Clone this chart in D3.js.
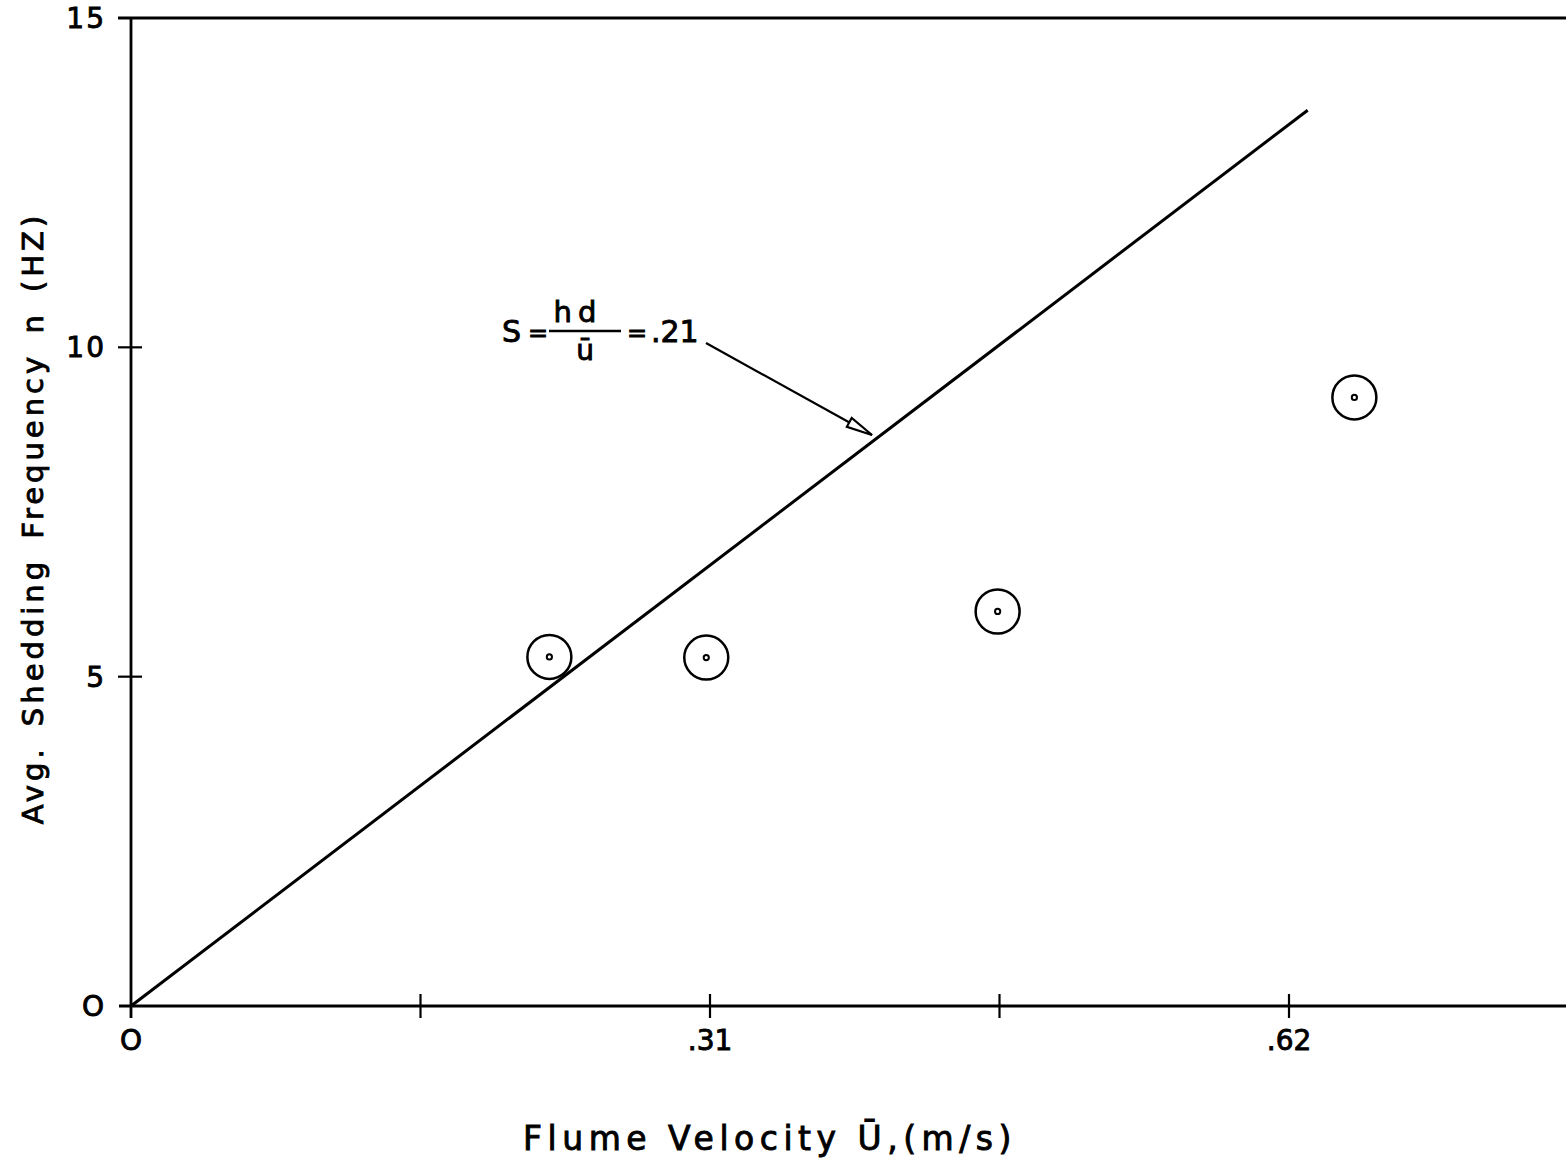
<!DOCTYPE html>
<html>
<head>
<meta charset="utf-8">
<script src="https://cdn.jsdelivr.net/npm/d3@7"></script>
<style>
  body { margin: 0; background: #fff; }
  text { font-family: "DejaVu Sans", sans-serif; fill: #000; stroke: #000; stroke-width: 0.9px; }
</style>
</head>
<body>
<div id="chart"></div>
<script>
// measured points (flume velocity m/s, shedding freq Hz)
const velocity = [0.224, 0.308, 0.464, 0.655]
const frequency = [5.30, 5.29, 5.99, 9.24]

// Strouhal line S = nd/U = .21
const lineVelocity = [0, 0.63]
const lineFrequency = [0, 13.6]

const xTicks = [0, 0.155, 0.31, 0.465, 0.62]
const xTickLabels = ['O', '', '.31', '', '.62']
const yTicks = [0, 5, 10, 15]
const yTickLabels = ['O', '5', '10', '15']

let width = 1566
let height = 1160

function drawChart() {
  let svg = d3.select('#chart')
    .append('svg')
    .attr('width', width)
    .attr('height', height)

  let xScale = d3.scaleLinear()
    .domain([0, 0.62])
    .range([131, 1289])

  let yScale = d3.scaleLinear()
    .domain([0, 15])
    .range([1006, 18])

  // axis lines
  svg.append('line')
    .attr('x1', xScale(0) - 12).attr('x2', width)
    .attr('y1', yScale(0)).attr('y2', yScale(0))
    .attr('stroke', '#000').attr('stroke-width', 2.8)
  svg.append('line')
    .attr('x1', xScale(0) - 13).attr('x2', width)
    .attr('y1', yScale(15)).attr('y2', yScale(15))
    .attr('stroke', '#000').attr('stroke-width', 2.8)
  svg.append('line')
    .attr('x1', xScale(0)).attr('x2', xScale(0))
    .attr('y1', yScale(15)).attr('y2', yScale(0) + 12)
    .attr('stroke', '#000').attr('stroke-width', 2.8)

  // x ticks, crossing the axis
  svg.selectAll('.xtick')
    .data(xTicks.slice(1))
    .enter()
    .append('line')
    .attr('class', 'xtick')
    .attr('x1', d => xScale(d)).attr('x2', d => xScale(d))
    .attr('y1', yScale(0) - 12).attr('y2', yScale(0) + 12)
    .attr('stroke', '#000').attr('stroke-width', 2.2)

  svg.selectAll('.xlabel')
    .data(xTicks)
    .enter()
    .append('text')
    .attr('class', 'xlabel')
    .attr('x', d => xScale(d))
    .attr('y', 1050)
    .attr('text-anchor', 'middle')
    .style('font-size', '28px')
    .text((d, i) => xTickLabels[i])

  // y ticks
  svg.selectAll('.ytick')
    .data(yTicks.slice(1, 3))
    .enter()
    .append('line')
    .attr('class', 'ytick')
    .attr('x1', xScale(0) - 13).attr('x2', xScale(0) + 11)
    .attr('y1', d => yScale(d)).attr('y2', d => yScale(d))
    .attr('stroke', '#000').attr('stroke-width', 2.2)

  svg.selectAll('.ylabel')
    .data(yTicks)
    .enter()
    .append('text')
    .attr('class', 'ylabel')
    .attr('x', 106)
    .attr('y', d => yScale(d) + 10)
    .attr('text-anchor', 'end')
    .style('font-size', '28px')
    .style('letter-spacing', '2px')
    .text((d, i) => yTickLabels[i])

  // axis titles
  svg.append('text')
    .attr('x', 770)
    .attr('y', 1150)
    .attr('text-anchor', 'middle')
    .style('font-size', '33px')
    .style('letter-spacing', '5.5px')
    .text('Flume Velocity Ū,(m/s)')

  svg.append('text')
    .attr('transform', 'translate(43,518) rotate(-90)')
    .attr('text-anchor', 'middle')
    .style('font-size', '29px')
    .style('letter-spacing', '4px')
    .style('word-spacing', '6px')
    .text('Avg. Shedding Frequency  n (HZ)')

  // Strouhal line
  let line = d3.line()
    .x(d => xScale(d[0]))
    .y(d => yScale(d[1]))
  svg.append('path')
    .datum(lineVelocity.map((v, i) => [v, lineFrequency[i]]))
    .attr('d', line)
    .attr('fill', 'none')
    .attr('stroke', '#000')
    .attr('stroke-width', 3)

  // data points
  let pts = svg.selectAll('.pt')
    .data(velocity.map((v, i) => ({ v: v, f: frequency[i] })))
    .enter()
    .append('g')
    .attr('class', 'pt')
    .attr('transform', d => `translate(${xScale(d.v)},${yScale(d.f)})`)
  pts.append('circle')
    .attr('r', 22)
    .attr('fill', 'none')
    .attr('stroke', '#000')
    .attr('stroke-width', 2.5)
  pts.append('circle')
    .attr('r', 2.6)
    .attr('fill', 'none')
    .attr('stroke', '#000')
    .attr('stroke-width', 2)

  // annotation S = nd/U = .21
  let ann = svg.append('g')
  ann.append('text')
    .attr('x', 502).attr('y', 342)
    .style('font-size', '30px')
    .text('S')
  ann.append('text')
    .attr('x', 528).attr('y', 341)
    .style('font-size', '24px')
    .text('=')
  ann.append('text')
    .attr('x', 578).attr('y', 322)
    .attr('text-anchor', 'middle')
    .style('font-size', '29px')
    .style('letter-spacing', '6px')
    .text('hd')
  ann.append('line')
    .attr('x1', 549).attr('x2', 621)
    .attr('y1', 331).attr('y2', 331)
    .attr('stroke', '#000').attr('stroke-width', 2.4)
  ann.append('text')
    .attr('x', 585).attr('y', 360)
    .attr('text-anchor', 'middle')
    .style('font-size', '28px')
    .text('ū')
  ann.append('text')
    .attr('x', 627).attr('y', 341)
    .style('font-size', '24px')
    .text('=')
  ann.append('text')
    .attr('x', 651).attr('y', 342)
    .style('font-size', '30px')
    .text('.21')

  // arrow pointing at the line
  let ax1 = 706, ay1 = 343, ax2 = 872, ay2 = 435
  ann.append('line')
    .attr('x1', ax1).attr('y1', ay1)
    .attr('x2', ax2).attr('y2', ay2)
    .attr('stroke', '#000').attr('stroke-width', 2.2)
  let ang = Math.atan2(ay2 - ay1, ax2 - ax1)
  let hl = 26, hw = 5
  let bx = ax2 - hl * Math.cos(ang), by = ay2 - hl * Math.sin(ang)
  ann.append('path')
    .attr('d', `M${ax2},${ay2} L${bx - hw * Math.sin(ang)},${by + hw * Math.cos(ang)} L${bx + hw * Math.sin(ang)},${by - hw * Math.cos(ang)} Z`)
    .attr('fill', '#fff')
    .attr('stroke', '#000')
    .attr('stroke-width', 2.2)
}

drawChart()
</script>
</body>
</html>
